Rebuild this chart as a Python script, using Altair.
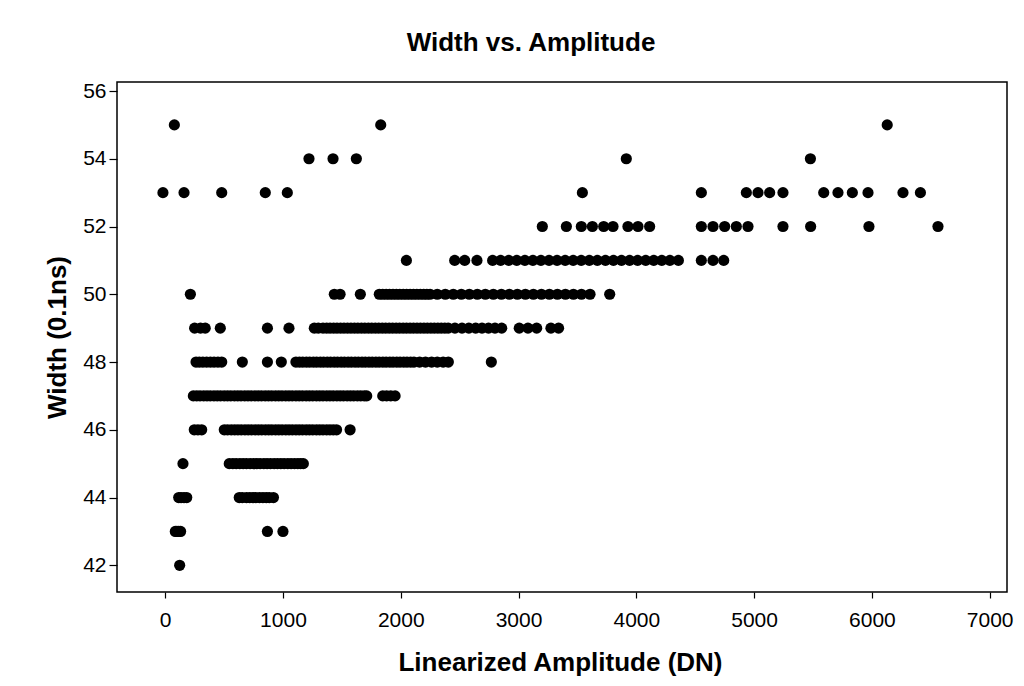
import altair as alt
import pandas as pd

# Linearized amplitude (DN) values of the points, one list per width level (0.1 ns)
amp_w42 = [123]
amp_w43 = [86, 100, 115, 131, 868, 1000]
amp_w44 = [115, 135, 160, 183, 629, 655, 690, 718, 745, 770, 801, 830, 858, 884, 919]
amp_w45 = [151, 544, 575, 603, 634, 662, 690, 721, 750, 779, 806, 838, 865, 894, 925,
           953, 982, 1010, 1041, 1069, 1098, 1126, 1150, 1173]
amp_w46 = [247, 278, 310, 502, 530, 561, 590, 618, 646, 677, 705, 733, 764, 792, 820,
           851, 879, 906, 937, 965, 993, 1024, 1052, 1080, 1110, 1138, 1166, 1197, 1225,
           1253, 1284, 1312, 1340, 1371, 1399, 1427, 1455, 1570]
amp_w47 = [239, 268, 296, 327, 355, 383, 414, 442, 470, 501, 529, 557, 588, 616, 644,
           675, 703, 731, 762, 790, 818, 849, 877, 905, 936, 964, 992, 1023, 1051, 1079,
           1110, 1138, 1166, 1197, 1225, 1253, 1284, 1312, 1340, 1371, 1399, 1427, 1458,
           1486, 1514, 1545, 1573, 1601, 1632, 1660, 1690, 1711, 1847, 1880, 1915, 1952]
amp_w48 = [262, 290, 320, 352, 384, 415, 448, 480, 655, 868, 986,
           1110, 1140, 1168, 1199, 1227, 1258, 1286, 1317, 1345, 1376, 1404, 1435, 1463,
           1494, 1522, 1553, 1581, 1612, 1640, 1671, 1699, 1730, 1758, 1789, 1817, 1848,
           1876, 1907, 1935, 1966, 1994, 2025, 2053, 2084, 2112, 2160, 2210, 2262, 2310,
           2360, 2404, 2769]
amp_w49 = [250, 300, 340, 468, 868, 1051, 1266, 1300, 1340, 1371,
           1400, 1430, 1459, 1489, 1518, 1548, 1577, 1607, 1636, 1666, 1695, 1725, 1754,
           1784, 1813, 1843, 1872, 1902, 1931, 1961, 1990, 2020, 2049, 2079, 2108, 2138,
           2167, 2197, 2226, 2256, 2285, 2315, 2344, 2374, 2403, 2460, 2520, 2578, 2636,
           2690, 2745, 2800, 2857, 3006, 3080, 3154, 3275, 3340]
amp_w50 = [214, 1436, 1485, 1657,
           1818, 1847, 1876, 1905, 1934, 1963, 1992, 2021, 2050, 2079, 2108, 2137, 2166,
           2195, 2222, 2249, 2310, 2378, 2446, 2514, 2582, 2650, 2718, 2786, 2854, 2922,
           2990, 3058, 3126, 3194, 3262, 3330, 3398, 3466, 3534, 3607, 3774]
amp_w51 = [2048, 2458, 2543, 2647, 2780, 2848, 2917, 2985, 3054, 3122, 3190, 3259, 3327,
           3396, 3464, 3532, 3601, 3669, 3738, 3806, 3874, 3943, 4011, 4080, 4148, 4216,
           4285, 4357, 4552, 4651, 4742]
amp_w52 = [3202, 3406, 3533, 3627, 3723, 3802, 3929, 4014, 4113, 4552, 4651, 4750, 4849,
           4948, 5245, 5480, 5975, 6561]
amp_w53 = [-19, 160, 480, 850, 1037, 3542, 4552, 4934, 5033, 5132, 5245, 5591, 5712,
           5834, 5967, 6264, 6412]
amp_w54 = [1221, 1425, 1623, 3915, 5478]
amp_w55 = [78, 1830, 6130]

x_ticks = [0, 1000, 2000, 3000, 4000, 5000, 6000, 7000]
y_ticks = [42, 44, 46, 48, 50, 52, 54, 56]

levels = {
    42: amp_w42, 43: amp_w43, 44: amp_w44, 45: amp_w45, 46: amp_w46, 47: amp_w47,
    48: amp_w48, 49: amp_w49, 50: amp_w50, 51: amp_w51, 52: amp_w52, 53: amp_w53,
    54: amp_w54, 55: amp_w55,
}
rows = []
for w, amps in levels.items():
    for a in amps:
        rows.append({"amp": a, "width": w})
df = pd.DataFrame(rows)

TITLE_FONT = "Liberation Sans"

chart = alt.Chart(df).mark_circle(size=125, color="black", opacity=1).encode(
    x=alt.X(
        "amp:Q",
        scale=alt.Scale(domain=[-409, 7147], nice=False, zero=False),
        axis=alt.Axis(
            values=x_ticks, grid=False, domain=False, format="d",
            title="Linearized Amplitude (DN)",
            titleFont=TITLE_FONT, titleFontSize=26, titleFontWeight="bold", titleColor="black",
            titleX=443, titleY=78, titleAlign="center", titleBaseline="alphabetic",
            labelFont="Liberation Sans", labelFontSize=21, labelColor="black",
            labelPadding=11, tickSize=6, tickColor="black", tickWidth=1.2,
        ),
    ),
    y=alt.Y(
        "width:Q",
        scale=alt.Scale(domain=[41.212, 56.266], nice=False, zero=False),
        axis=alt.Axis(
            values=y_ticks, grid=False, domain=False, format="d",
            title="Width (0.1ns)",
            titleFont=TITLE_FONT, titleFontSize=26, titleFontWeight="bold", titleColor="black",
            titleX=-52, titleY=255, titleAngle=-90, titleAlign="center",
            titleBaseline="alphabetic",
            labelFont="Liberation Sans", labelFontSize=21, labelColor="black",
            labelPadding=3, tickSize=8, tickColor="black", tickWidth=1.2,
        ),
    ),
).properties(
    width=890,
    height=510,
    title=alt.TitleParams(
        "Width vs. Amplitude", font=TITLE_FONT, fontSize=26, fontWeight="bold",
        color="black", anchor="middle", dx=-31, offset=3, baseline="alphabetic",
    ),
    autosize=alt.AutoSizeParams(type="none"),
    padding={"left": 109, "top": 74, "right": 8, "bottom": 94},
).configure(
    background="white",
    view=alt.ViewConfig(stroke="black", strokeWidth=1.5),
)

chart.save("out.html", embed_options={"renderer": "svg", "actions": False})
